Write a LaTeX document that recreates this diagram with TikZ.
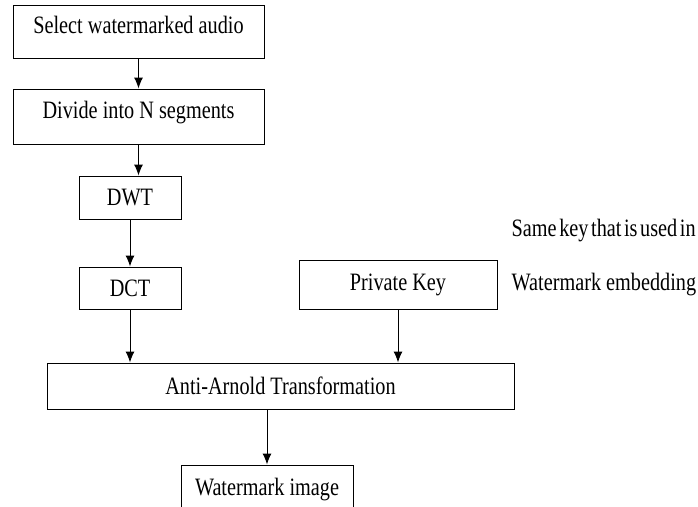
\documentclass[tikz,border=0pt]{standalone}
\usepackage{fontspec}
\setmainfont{Liberation Serif}[FakeStretch=0.81]
\usepackage{tikz}
\usetikzlibrary{positioning}
\usetikzlibrary{arrows,arrows.meta}
\tikzstyle{block} = [draw, fill=white, rectangle, line width=1pt, inner sep=2pt]
\tikzstyle{raised} = [text depth=14pt]
\tikzstyle{note} = [anchor=west, inner sep=0pt]
\begin{document}
\begin{tikzpicture}[x=1pt, y=-1pt, >={Latex[length=11pt,width=9pt]}, font=\fontsize{25}{29}\selectfont]
	\useasboundingbox (0,0) rectangle (698,506);
	\node [block, raised, minimum width=251pt, minimum height=53pt] (select) at (138.5,31.5) {Select watermarked audio};
	\node [block, raised, minimum width=251pt, minimum height=55pt, node distance=30pt, below=of select] (divide) {Divide into N segments};
	\node [block, minimum width=102pt, minimum height=43pt, node distance=31pt, below=of divide, xshift=-8.5pt] (dwt) {DWT};
	\node [block, minimum width=102pt, minimum height=42pt, node distance=47pt, below=of dwt] (dct) {DCT};
	\node [block, minimum width=467pt, minimum height=46pt, node distance=53pt, below=of dct, xshift=150.5pt] (anti) {Anti-Arnold Transformation};
	\node [block, minimum width=198pt, minimum height=49pt, node distance=53pt, above=of anti, xshift=117.5pt] (key) {Private Key};
	\node [block, minimum width=172pt, minimum height=50pt, node distance=55pt, below=of anti, xshift=-13.5pt] (wmimage) {Watermark image};

	\node [note, right=14pt of key.east] (embed) {Watermark embedding};
	\node [note] (same) at ([yshift=54pt]embed.west) {\spaceskip=2.6pt Same key that is used in};

	\draw [->, line width=1pt] (select.south) -- (divide.north);
	\draw [->, line width=1pt] (divide.south) -- (divide.south |- dwt.north);
	\draw [->, line width=1pt] (dwt.south) -- (dct.north);
	\draw [->, line width=1pt] (dct.south) -- (dct.south |- anti.north);
	\draw [->, line width=1pt] (key.south) -- (key.south |- anti.north);
	\draw [->, line width=1pt] (wmimage.north |- anti.south) -- (wmimage.north);

\end{tikzpicture}
\end{document}
